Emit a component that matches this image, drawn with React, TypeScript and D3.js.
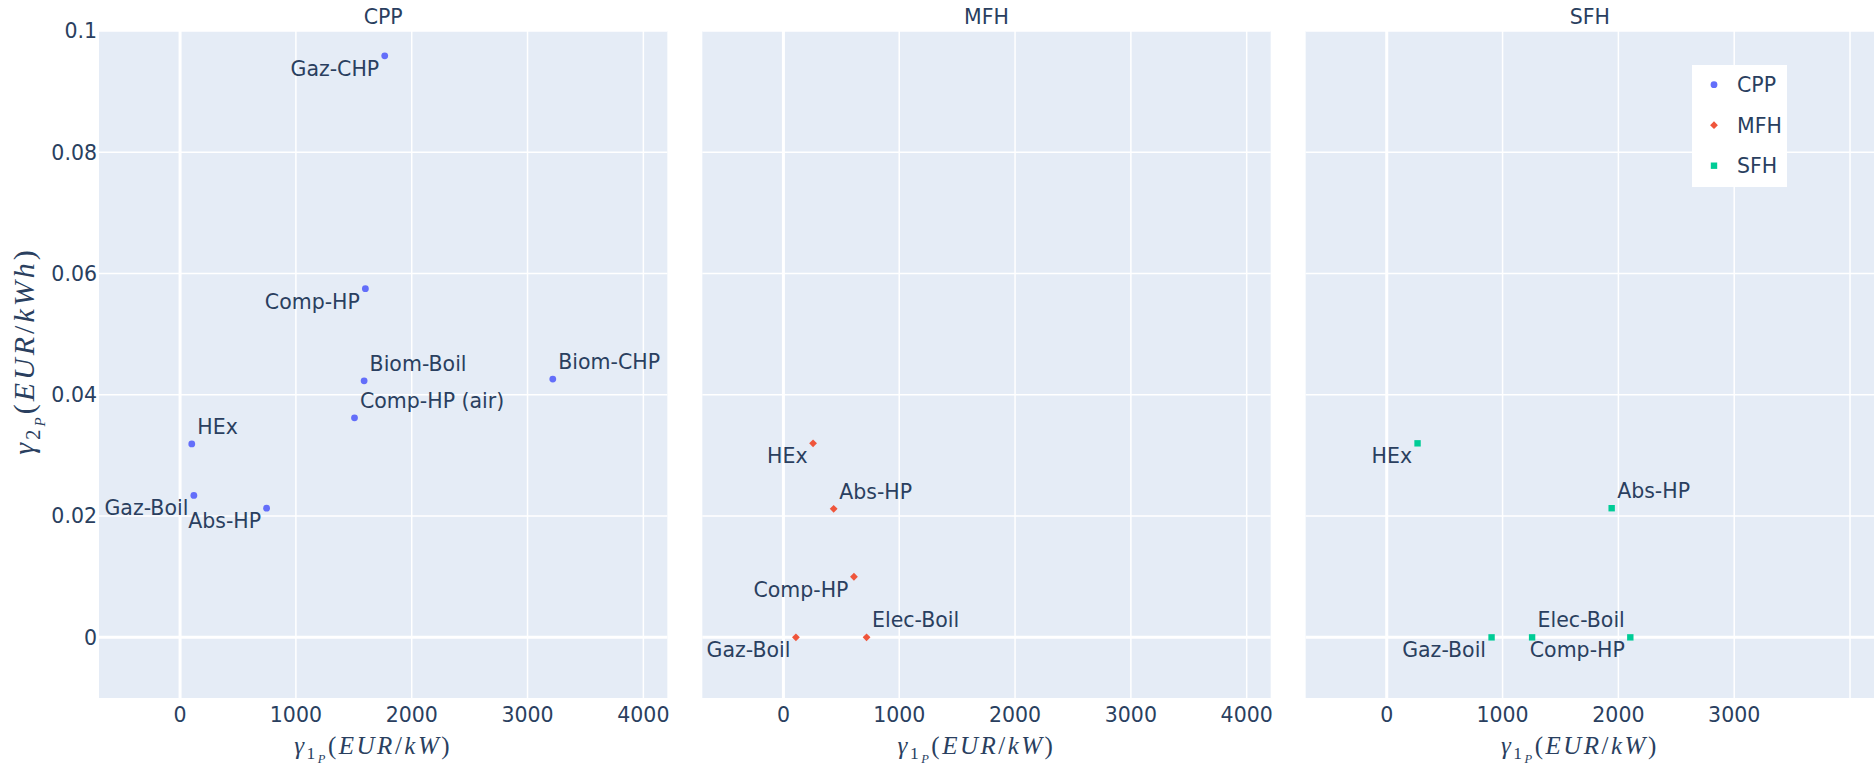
import * as d3 from 'd3';

// facet names and their trace colours / symbols
const panelNames = ['CPP', 'MFH', 'SFH'];
const panelColors = ['#636efa', '#EF553B', '#00cc96'];
const panelSymbols = ['circle', 'diamond', 'square'];

// CPP
const cppTech = ['Gaz-CHP', 'Comp-HP', 'Biom-Boil', 'Biom-CHP', 'Comp-HP (air)', 'HEx', 'Gaz-Boil', 'Abs-HP'];
const cppGamma1 = [1767, 1600, 1589, 3218, 1506, 101, 119, 747];
const cppGamma2 = [0.0959, 0.0575, 0.0423, 0.0426, 0.0362, 0.0319, 0.0234, 0.0213];
const cppTextPos = ['bottom left', 'bottom left', 'top right', 'top right', 'top right', 'top right', 'bottom left', 'bottom left'];

// MFH
const mfhTech = ['HEx', 'Abs-HP', 'Comp-HP', 'Gaz-Boil', 'Elec-Boil'];
const mfhGamma1 = [256, 434, 609, 108, 718];
const mfhGamma2 = [0.032, 0.0212, 0.01, 0, 0];
const mfhTextPos = ['bottom left', 'top right', 'bottom left', 'bottom left', 'top right'];

// SFH
const sfhTech = ['HEx', 'Abs-HP', 'Gaz-Boil', 'Elec-Boil', 'Comp-HP'];
const sfhGamma1 = [266, 1942, 905, 1255, 2103];
const sfhGamma2 = [0.032, 0.0213, 0, 0, 0];
const sfhTextPos = ['bottom left', 'top right', 'bottom left', 'top right', 'bottom left'];

const xTicks = [0, 1000, 2000, 3000, 4000];
const yTicks = [0, 0.02, 0.04, 0.06, 0.08, 0.1];
const xRange = [-700, 4207];
const yRange = [-0.01, 0.1];

const W = 1874;
const H = 768;
const margins = { top: 31, right: 0, bottom: 70, left: 99 };
const gap = 35;
const panelW = (W - margins.left - margins.right - gap * 2) / 3;
const font = 'DejaVu Sans';
const fontSize = 20.5;
const textColor = '#2a3f5f';
const bg = '#E5ECF6';
const mathFont = 'Liberation Serif';

const panelData = [
  { tech: cppTech, g1: cppGamma1, g2: cppGamma2, pos: cppTextPos },
  { tech: mfhTech, g1: mfhGamma1, g2: mfhGamma2, pos: mfhTextPos },
  { tech: sfhTech, g1: sfhGamma1, g2: sfhGamma2, pos: sfhTextPos },
];

const markerPath = (symbol: string) => {
  if (symbol === 'diamond') return 'M3.9,0L0,3.9L-3.9,0L0,-3.9Z';
  if (symbol === 'square') return 'M3.2,3.2H-3.2V-3.2H3.2Z';
  return 'M3.4,0A3.4,3.4 0 1,1 0,-3.4A3.4,3.4 0 0,1 3.4,0Z';
};

const yScale = d3.scaleLinear().domain(yRange).range([H - margins.bottom, margins.top]);
const yFmt = d3.format('~g');

// gamma_{n_P}(EUR/unit) written like the MathJax title
const MathTitle = ({ x, y, size, sub, unit, rotate }: { x: number; y: number; size: number; sub: string; unit: string; rotate?: boolean }) => (
  <text
    x={x}
    y={y}
    transform={rotate ? `rotate(-90, ${x}, ${y})` : undefined}
    textAnchor="middle"
    fontFamily={mathFont}
    fontSize={size}
    fill={textColor}
    letterSpacing={size * 0.1}
  >
    <tspan fontStyle="italic">γ</tspan>
    <tspan fontSize={size * 0.7} dy={size * 0.2}>{sub}</tspan>
    <tspan fontSize={size * 0.5} fontStyle="italic" dy={size * 0.15}>P</tspan>
    <tspan dy={-size * 0.35}>(</tspan>
    <tspan fontStyle="italic">EUR</tspan>
    <tspan>/</tspan>
    <tspan fontStyle="italic">{unit}</tspan>
    <tspan>)</tspan>
  </text>
);

const App = () => {
  const y0 = yScale(yRange[1]);
  const y1 = yScale(yRange[0]);

  return (
    <svg
      width={W}
      height={H}
      viewBox={`0 0 ${W} ${H}`}
      style={{ position: 'absolute', left: 0, top: 0, background: '#fff' }}
    >
      {panelNames.map((name, p) => {
        const left = margins.left + p * (panelW + gap);
        const xScale = d3.scaleLinear().domain(xRange).range([left, left + panelW]);
        const d = panelData[p];
        return (
          <g key={name}>
            <rect x={left} y={y0} width={panelW} height={y1 - y0} fill={bg} />
            {xTicks.map(t => (
              <line
                key={'gx' + t}
                x1={xScale(t)}
                x2={xScale(t)}
                y1={y0}
                y2={y1}
                stroke="#fff"
                strokeWidth={t === 0 ? 3 : 1.5}
              />
            ))}
            {yTicks.map(t => (
              <line
                key={'gy' + t}
                x1={left}
                x2={left + panelW}
                y1={yScale(t)}
                y2={yScale(t)}
                stroke="#fff"
                strokeWidth={t === 0 ? 3 : 1.5}
              />
            ))}
            <text
              x={left + panelW / 2}
              y={24}
              textAnchor="middle"
              fontFamily={font}
              fontSize={fontSize}
              fill={textColor}
            >
              {name}
            </text>
            {xTicks
              .filter(t => xScale(t) + (String(t).length * 0.636 * fontSize) / 2 <= W - 4)
              .map(t => (
                <text
                  key={'tx' + t}
                  x={xScale(t)}
                  y={722}
                  textAnchor="middle"
                  fontFamily={font}
                  fontSize={fontSize}
                  fill={textColor}
                >
                  {t}
                </text>
              ))}
            {p === 0 &&
              yTicks.map(t => (
                <text
                  key={'ty' + t}
                  x={left - 2}
                  y={yScale(t)}
                  dy="0.36em"
                  textAnchor="end"
                  fontFamily={font}
                  fontSize={fontSize}
                  fill={textColor}
                >
                  {yFmt(t)}
                </text>
              ))}
            <MathTitle x={left + panelW / 2 - 10} y={754} size={25} sub="1" unit="kW" />
            {d.tech.map((tech, i) => (
              <path
                key={'m' + i}
                d={markerPath(panelSymbols[p])}
                transform={`translate(${xScale(d.g1[i])},${yScale(d.g2[i])})`}
                fill={panelColors[p]}
              />
            ))}
            {d.tech.map((tech, i) => {
              const px = xScale(d.g1[i]);
              const py = yScale(d.g2[i]);
              const isTop = d.pos[i].startsWith('top');
              const isRight = d.pos[i].endsWith('right');
              return (
                <text
                  key={'l' + i}
                  x={isRight ? px + 5.5 : px - 5.5}
                  y={isTop ? py - 10 : py + 20}
                  textAnchor={isRight ? 'start' : 'end'}
                  fontFamily={font}
                  fontSize={fontSize}
                  fill={textColor}
                >
                  {tech}
                </text>
              );
            })}
          </g>
        );
      })}
      <MathTitle x={34} y={351} size={30} sub="2" unit="kWh" rotate />
      <g>
        <rect x={1692} y={65} width={95} height={122} fill="#fff" />
        {panelNames.map((name, i) => (
          <g key={'lg' + name} transform={`translate(0, ${84.7 + i * 40.5})`}>
            <path d={markerPath(panelSymbols[i])} transform="translate(1714,0)" fill={panelColors[i]} />
            <text x={1737} y={0} dy="0.36em" fontFamily={font} fontSize={fontSize} fill={textColor}>
              {name}
            </text>
          </g>
        ))}
      </g>
    </svg>
  );
};

export default App;
